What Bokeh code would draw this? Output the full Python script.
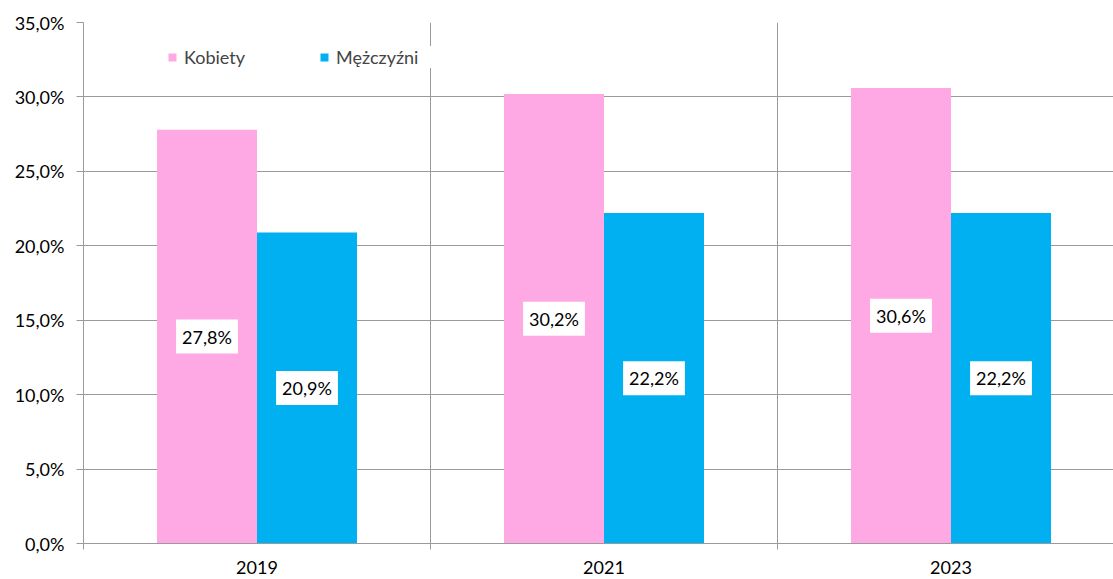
from bokeh.plotting import figure
from bokeh.models import (ColumnDataSource, Range1d, FixedTicker, Legend, LegendItem)
from bokeh.core.properties import value
from bokeh.embed import file_html
from bokeh.resources import INLINE

# ---- data ----
years = ["2019", "2021", "2023"]
kobiety = [27.8, 30.2, 30.6]
mezczyzni = [20.9, 22.2, 22.2]
series_names = ["Kobiety", "Mężczyźni"]
y_ticks = [0, 5, 10, 15, 20, 25, 30, 35]
y_tick_labels = ["0,0%", "5,0%", "10,0%", "15,0%", "20,0%", "25,0%", "30,0%", "35,0%"]

PINK = "#FEA8E4"
BLUE = "#00B0F0"
GRID = "#9a9a9a"
FONT = "Lato"
FS = "18px"

bar_w = 100 / 347
centers = [i + 0.5 for i in range(len(years))]

def fmt(v):
    return f"{v:.1f}%".replace(".", ",")

src_k = ColumnDataSource(dict(
    x=[c - bar_w / 2 for c in centers], top=kobiety,
    ymid=[v / 2 for v in kobiety], label=[fmt(v) for v in kobiety]))
src_m = ColumnDataSource(dict(
    x=[c + bar_w / 2 for c in centers], top=mezczyzni,
    ymid=[v / 2 for v in mezczyzni], label=[fmt(v) for v in mezczyzni]))

p = figure(width=1113, height=579, output_backend="svg", toolbar_location=None,
           x_range=Range1d(0, 1030 / 347), y_range=Range1d(0, 35),
           min_border_left=83, min_border_right=0, min_border_top=22, min_border_bottom=36)
p.outline_line_color = None
p.background_fill_color = "white"

r1 = p.vbar(x="x", top="top", width=bar_w, source=src_k, fill_color=PINK, line_color=None)
r2 = p.vbar(x="x", top="top", width=bar_w, source=src_m, fill_color=BLUE, line_color=None)

for src in (src_k, src_m):
    p.text(x="x", y="ymid", text="label", source=src, text_align="center",
           text_baseline="middle", text_font=value(FONT), text_font_size=FS,
           text_color="black", background_fill_color="white", padding=6)

# x axis
xa = p.xaxis[0]
xa.ticker = FixedTicker(ticks=centers, minor_ticks=[0, 1, 2, 3])
xa.major_label_overrides = {c: y for c, y in zip(centers, years)}
xa.major_tick_line_color = None
xa.minor_tick_out = 6
xa.minor_tick_in = 0
xa.minor_tick_line_color = GRID
xa.axis_line_color = GRID
xa.major_label_text_font = FONT
xa.major_label_text_font_size = FS
xa.major_label_text_color = "black"
xa.major_label_standoff = 11

# y axis
ya = p.yaxis[0]
ya.ticker = FixedTicker(ticks=y_ticks)
ya.major_label_overrides = {t: l for t, l in zip(y_ticks, y_tick_labels)}
ya.major_tick_out = 7
ya.major_tick_in = 0
ya.major_tick_line_color = GRID
ya.minor_tick_line_color = None
ya.axis_line_color = GRID
ya.major_label_text_font = FONT
ya.major_label_text_font_size = FS
ya.major_label_text_color = "black"
ya.major_label_standoff = 12

p.xgrid.ticker = FixedTicker(ticks=[1, 2])
p.xgrid.grid_line_color = GRID
p.ygrid.ticker = FixedTicker(ticks=y_ticks[1:])
p.ygrid.grid_line_color = GRID

legend = Legend(items=[LegendItem(label=series_names[0], renderers=[r1]),
                       LegendItem(label=series_names[1], renderers=[r2])],
                orientation="horizontal", location=(84, 475),
                glyph_width=10, glyph_height=10, label_standoff=7,
                label_width=120, spacing=15,
                padding=20, margin=0,
                background_fill_color="white", background_fill_alpha=1,
                border_line_color=None,
                label_text_font=FONT, label_text_font_size=FS)
p.add_layout(legend)

open("out.html", "w").write(file_html(p, INLINE))
